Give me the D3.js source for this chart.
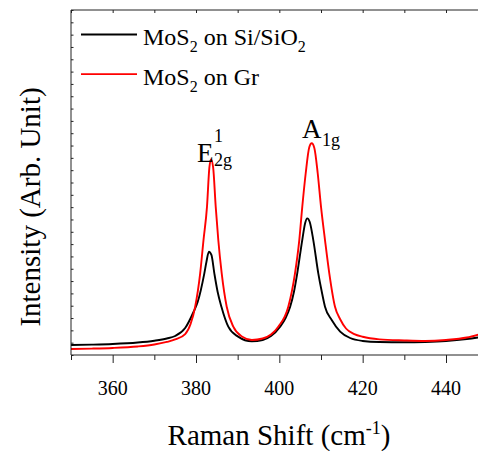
<!DOCTYPE html>
<html><head><meta charset="utf-8">
<script src="https://cdn.jsdelivr.net/npm/d3@7"></script>
</head><body style="margin:0">
<svg id="c" width="478" height="451"></svg>
<script>
// Raman shift (cm^-1) and intensity (arb.)
const shiftSi = [350,355,360,366,370,373,375,377.4,379.4,380.4,382.0,382.5,383.1,383.7,384.4,385.2,386.1,387.75,390.1,393.4,396,398,400.2,401.5,402.6,403.5,404.3,405.5,406.2,406.7,407.3,408.15,409.35,410.2,410.96,412.57,414.6,417,420,424,430,435,440,445,448];
const intSi   = [81,84,89,101,116,134,154,219,349,430,663,755,838,812,663,511,392,230,149,111,122,154,230,300,392,511,663,933,1071,1109,1079,933,663,511,392,284,190,138,114,105,103,106,114,130,144];
const shiftGr = [350,355,360,366,370,373,375,377.4,378.7,379.8,381.0,381.8,382.64,383.2,383.6,384.1,384.73,385.35,386.17,387.37,388.95,391,393.4,396,398,399.75,402.15,403.76,404.79,405.51,406.33,407.2,407.77,408.4,409.21,410.0,410.96,411.99,413.36,414.6,416,418,420,424,430,435,440,445,448];
const intGr   = [49,52,57,69,85,106,126,170,252,392,663,933,1204,1518,1588,1526,1204,933,663,392,230,150,122,134,166,230,392,663,933,1204,1475,1688,1718,1680,1475,1204,933,663,392,290,215,170,148,127,118,114,122,142,168];
const seriesColors = ["#000000", "#ff0000"];
const legendParts = [["MoS","2"," on Si/SiO","2"], ["MoS","2"," on Gr"]];
const xMajorTicks = [360,380,400,420,440];
const xMinorTicks = [350,370,390,410,430,450];
const yTicks = d3.range(0, 2801, 100);
const xTitle = ["Raman Shift (cm", "-1", ")"];
const yTitle = "Intensity (Arb. Unit)";

const svg = d3.select("#c");
const L = 71, T = 10, B = 355, R = 478.5;
const x = d3.scaleLinear().domain([350, 447.8]).range([L, R]);
const y = d3.scaleLinear().domain([0, 2800]).range([B, T]);

svg.append("rect").attr("width", 478).attr("height", 451).attr("fill", "#fff");
svg.append("defs").append("clipPath").attr("id","clip")
  .append("rect").attr("x", L).attr("y", T).attr("width", 478 - L).attr("height", B - T);

// curves
const line = d3.line().x(d => x(d[0])).y(d => y(d[1])).curve(d3.curveMonotoneX);
const series = [d3.zip(shiftSi, intSi), d3.zip(shiftGr, intGr)];
const g = svg.append("g").attr("clip-path", "url(#clip)");
series.forEach((s, i) => {
  g.append("path").datum(s).attr("d", line)
    .attr("fill", "none").attr("stroke", seriesColors[i]).attr("stroke-width", 1.9)
    .attr("stroke-linejoin", "round");
});

// bottom axis ticks (labels drawn separately)
const axB = svg.append("g").attr("transform", `translate(0,${B})`)
  .call(d3.axisBottom(x).tickValues(xMajorTicks).tickSize(8).tickFormat(""));
axB.select(".domain").remove();
const axBm = svg.append("g").attr("transform", `translate(0,${B})`)
  .call(d3.axisBottom(x).tickValues(xMinorTicks.filter(v => v <= 447.8)).tickSize(5).tickFormat(""));
axBm.select(".domain").remove();
// top axis (inward ticks)
const axT = svg.append("g").attr("transform", `translate(0,${T})`)
  .call(d3.axisTop(x).tickValues(xMajorTicks.concat(xMinorTicks).filter(v => v <= 447.8)).tickSize(-3).tickFormat(""));
axT.select(".domain").remove();
// left axis (inward ticks, no labels)
const axL = svg.append("g").attr("transform", `translate(${L},0)`)
  .call(d3.axisLeft(y).tickValues(yTicks).tickSize(-2.5).tickFormat(""));
axL.select(".domain").remove();
svg.selectAll(".tick line").attr("stroke", "#222");

// frame lines
svg.append("line").attr("x1", L).attr("x2", 478).attr("y1", B).attr("y2", B).attr("stroke", "#222");
svg.append("line").attr("x1", L).attr("x2", 478).attr("y1", T).attr("y2", T).attr("stroke", "#222");
svg.append("line").attr("x1", L).attr("x2", L).attr("y1", T).attr("y2", B).attr("stroke", "#222");

// tick labels
xMajorTicks.forEach(v => {
  svg.append("text").attr("x", x(v)).attr("y", 395).attr("text-anchor", "middle")
    .attr("font-size", 20).style("font-family", '"Liberation Serif"').text(v);
});

// axis titles
const xt = svg.append("text").attr("x", 279).attr("y", 445).attr("text-anchor", "middle")
  .attr("font-size", 29).style("font-family", '"Liberation Serif"');
xt.append("tspan").text(xTitle[0]);
xt.append("tspan").attr("font-size", 18).attr("dy", -11).text(xTitle[1]);
xt.append("tspan").attr("dy", 11).text(xTitle[2]);
svg.append("text").attr("transform", "translate(40,207) rotate(-90)")
  .attr("text-anchor", "middle").attr("font-size", 29).style("font-family", '"Liberation Serif"').text(yTitle);

// legend
legendParts.forEach((parts, i) => {
  const yy = 34.5 + i * 39.7;
  svg.append("line").attr("x1", 81).attr("x2", 137).attr("y1", yy).attr("y2", yy)
    .attr("stroke", seriesColors[i]).attr("stroke-width", 1.8);
  const t = svg.append("text").attr("x", 143).attr("y", yy + 10.5).attr("font-size", 24)
    .style("font-family", '"Liberation Serif"');
  parts.forEach((p, j) => {
    const sub = j % 2 === 1;
    const ts = t.append("tspan").text(p);
    if (sub) ts.attr("font-size", 16).attr("dy", 7);
    else if (j > 0) ts.attr("dy", -7);
  });
});

// peak labels
const peakLabels = [
  {t: "E", x: 197, y: 161.5, s: 27}, {t: "1", x: 214, y: 141.5, s: 18}, {t: "2g", x: 214, y: 166, s: 18},
  {t: "A", x: 302, y: 137.5, s: 27}, {t: "1g", x: 322, y: 146, s: 18}
];
peakLabels.forEach(p => {
  svg.append("text").attr("x", p.x).attr("y", p.y).attr("font-size", p.s)
    .style("font-family", '"Liberation Serif"').text(p.t);
});
</script>
</body></html>
